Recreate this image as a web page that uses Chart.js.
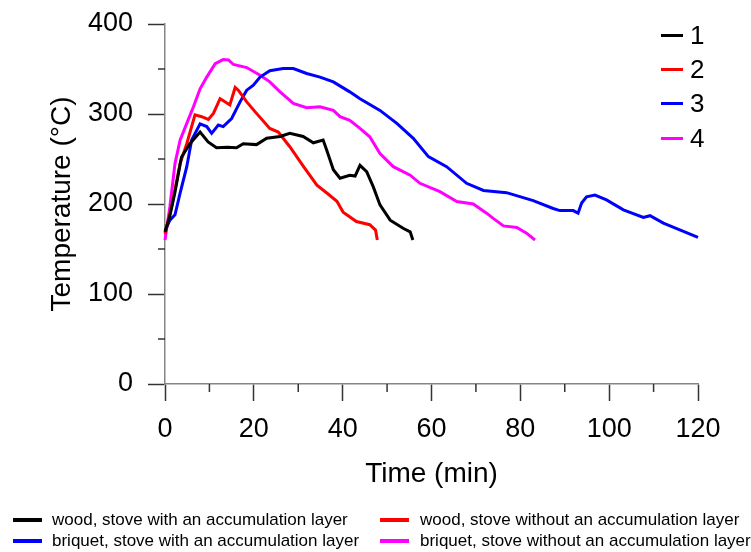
<!DOCTYPE html>
<html>
<head>
<meta charset="utf-8">
<script src="https://cdn.jsdelivr.net/npm/chart.js@4.4.0/dist/chart.umd.min.js"></script>
<style>
  html, body { margin: 0; padding: 0; background: #fff; }
  #wrap { position: relative; width: 751px; height: 552px; font-family: "Liberation Sans", Arial, sans-serif; }
  canvas { position: absolute; left: 0; top: 0; }
  .num { position: absolute; font-size: 26px; color: #000; line-height: 26px; }
  .nline { position: absolute; height: 3px; width: 22px; }
  .leg { position: absolute; font-size: 17px; color: #000; line-height: 20px; white-space: nowrap; }
  .lline { position: absolute; height: 4px; width: 29px; }
</style>
</head>
<body>
<div id="wrap">
  <canvas id="c" width="751" height="552"></canvas>
</div>
<script>
// ---- data ----
const seriesNames = ["1", "2", "3", "4"];
const legendLabels = [
  "wood, stove with an accumulation layer",
  "wood, stove without an accumulation layer",
  "briquet, stove with an accumulation layer",
  "briquet, stove without an accumulation layer"
];
const seriesColors = ["#000000", "#ff0000", "#0000ff", "#ff00ff"];

// 1: wood, stove with an accumulation layer
const time1 = [0, 1, 2.2, 3.7, 5.6, 7.9, 9.7, 11.6, 14, 16.1, 17.6, 20.6, 22.9, 25.9, 28.1, 31.1, 33.4, 35.6, 36.4, 37.9, 39.4, 41.6, 42.8, 43.9, 45.4, 46.9, 48.4, 50.7, 53.6, 55.2, 55.8];
const temp1 = [169, 185, 212, 252, 267, 280, 269, 262.5, 263, 262.5, 267, 266, 273, 275, 278.5, 275, 268, 271, 260, 238, 228.6, 232, 231, 243, 236, 219, 199, 182, 173, 169, 160];

// 2: wood, stove without an accumulation layer
const time2 = [0, 1.5, 3.4, 4.9, 6.75, 8.25, 9.75, 10.9, 12.4, 13.5, 14.6, 15.8, 16.5, 18.4, 20.6, 23.6, 25.5, 28.1, 31.2, 34.2, 36.5, 38.7, 40.1, 43.1, 46.1, 47.4, 47.8];
const temp2 = [167, 197, 245, 267, 299, 297, 294, 300.7, 317, 313.5, 310, 329.5, 326.5, 313.5, 300.7, 284, 280, 263.6, 241.5, 221, 212, 203, 191, 180.5, 177, 171, 160];

// 3: briquet, stove with an accumulation layer
const time3 = [0, 1.1, 2.25, 3.4, 4.9, 6.0, 7.9, 9.4, 10.5, 12, 13.1, 15, 16.9, 18.4, 19.9, 21.4, 23.6, 26.6, 28.9, 31.9, 34.9, 37.9, 41.6, 43.9, 48.4, 52.2, 55.9, 59.3, 63.4, 67.9, 71.7, 76.9, 82.9, 87.4, 88.9, 91.9, 93.0, 93.8, 94.9, 96.8, 99.4, 103.2, 107.7, 109.2, 112.2, 115.9, 120];
const temp3 = [170, 182, 188, 212, 241.5, 271, 289, 286, 278.5, 287.7, 286, 295, 313.5, 326.5, 332, 341, 348, 350.5, 350.5, 345, 341, 335.7, 324.6, 317, 304, 289.6, 273, 252.6, 241.5, 223, 215, 212.6, 203.8, 195, 192.7, 192.7, 189.8, 201, 208, 210, 204.5, 193.5, 185, 187, 178.7, 171.3, 163];

// 4: briquet, stove without an accumulation layer
const time4 = [0, 1.1, 2.25, 3.4, 4.9, 6.4, 7.9, 9.4, 11.3, 13.1, 14.3, 15.4, 18.4, 21.4, 23.6, 25.9, 28.9, 31.9, 34.9, 37.9, 39.4, 41.6, 43.9, 46.1, 48.4, 51.4, 55.2, 57.4, 61.9, 65.7, 69.4, 72.4, 73.9, 76.2, 79.2, 81.4, 83.3];
const temp4 = [160, 197, 245, 271, 289.6, 308, 328, 341, 356, 360.5, 360, 355, 351.6, 343, 335.7, 324.6, 311.8, 307, 308, 304, 297, 293, 284, 274.7, 256, 241.5, 232, 223, 213.7, 202.7, 200, 189.8, 184, 175.7, 174, 167.6, 160];

const xTitle = "Time (min)";
const yTitle = "Temperature (°C)";
const xMin = 0, xMax = 120, xStep = 10, xLabelEvery = 20;
const yMin = 0, yMax = 400, yStep = 50, yLabelEvery = 100;

// ---- build ----
const times = [time1, time2, time3, time4];
const temps = [temp1, temp2, temp3, temp4];
const datasets = times.map((tArr, i) => ({
  label: seriesNames[i],
  data: tArr.map((t, j) => ({ x: t, y: temps[i][j] })),
  borderColor: seriesColors[i],
  backgroundColor: seriesColors[i],
  borderWidth: 3,
  pointRadius: 0,
  tension: 0,
  fill: false,
  clip: false
}));

const AXIS = "#858585";
const TICK = "#333333";
const FONT = "'Liberation Sans', Arial, sans-serif";

const minorTicks = {
  id: "minorTicks",
  afterDraw(chart) {
    const ctx = chart.ctx;
    const xs = chart.scales.x, ys = chart.scales.y;
    ctx.save();
    ctx.strokeStyle = TICK;
    ctx.lineWidth = 1.5;
    for (let v = xMin; v <= xMax; v += xStep) {
      if (v % xLabelEvery === 0) continue;
      const px = xs.getPixelForValue(v);
      ctx.beginPath();
      ctx.moveTo(px, ys.bottom);
      ctx.lineTo(px, ys.bottom + 8);
      ctx.stroke();
    }
    for (let v = yMin; v <= yMax; v += yStep) {
      if (v % yLabelEvery === 0) continue;
      const py = ys.getPixelForValue(v);
      ctx.beginPath();
      ctx.moveTo(xs.left - 7, py);
      ctx.lineTo(xs.left, py);
      ctx.stroke();
    }
    ctx.restore();
  }
};

const chart = new Chart(document.getElementById("c"), {
  type: "line",
  data: { datasets },
  plugins: [minorTicks],
  options: {
    responsive: false,
    animation: false,
    events: [],
    layout: { padding: { left: 0, right: 53, top: 24, bottom: 58 } },
    plugins: { legend: { display: false }, tooltip: { enabled: false } },
    scales: {
      x: {
        type: "linear",
        min: xMin, max: xMax,
        afterFit: (s) => { s.height = 110; s.paddingLeft = 0; s.paddingRight = 0; },
        border: { color: AXIS, width: 1.5 },
        grid: {
          drawOnChartArea: false,
          drawTicks: true,
          tickLength: 17,
          tickWidth: 1.5,
          tickColor: (c) => (c.tick && c.tick.value % xLabelEvery === 0) ? TICK : "rgba(0,0,0,0)"
        },
        ticks: {
          stepSize: xStep,
          autoSkip: false,
          maxRotation: 0,
          padding: 12,
          color: "#000",
          font: { family: FONT, size: 27 },
          callback: (v) => (v % xLabelEvery === 0 ? String(v) : "")
        },
        title: {
          display: true, text: xTitle, color: "#000",
          font: { family: FONT, size: 28 },
          padding: { top: 0, bottom: 3 }
        }
      },
      y: {
        type: "linear",
        min: yMin, max: yMax,
        afterFit: (s) => { s.width = 165; s.paddingTop = 0; s.paddingBottom = 0; },
        border: { color: AXIS, width: 1.5 },
        grid: {
          drawOnChartArea: false,
          drawTicks: true,
          tickLength: 17,
          tickWidth: 1.5,
          tickColor: (c) => (c.tick && c.tick.value % yLabelEvery === 0) ? TICK : "rgba(0,0,0,0)"
        },
        ticks: {
          stepSize: yStep,
          autoSkip: false,
          padding: 15,
          color: "#000",
          font: { family: FONT, size: 27 },
          callback: (v) => (v % yLabelEvery === 0 ? String(v) : "")
        },
        title: {
          display: true, text: yTitle, color: "#000",
          font: { family: FONT, size: 28 },
          padding: { top: 45, bottom: 0 }
        }
      }
    }
  }
});

// ---- legends as HTML text ----
const wrap = document.getElementById("wrap");
const numRows = [35, 69, 103, 138];
seriesNames.forEach((n, i) => {
  const ln = document.createElement("div");
  ln.className = "nline";
  ln.style.left = "661px";
  ln.style.top = (numRows[i] - 1.5) + "px";
  ln.style.background = seriesColors[i];
  wrap.appendChild(ln);
  const tx = document.createElement("div");
  tx.className = "num";
  tx.style.left = "690px";
  tx.style.top = (numRows[i] - 13) + "px";
  tx.textContent = n;
  wrap.appendChild(tx);
});
const legPos = [
  { lx: 13, tx: 52, y: 520 },
  { lx: 380, tx: 420, y: 520 },
  { lx: 13, tx: 52, y: 541 },
  { lx: 380, tx: 420, y: 541 }
];
legendLabels.forEach((lab, i) => {
  const p = legPos[i];
  const ln = document.createElement("div");
  ln.className = "lline";
  ln.style.left = p.lx + "px";
  ln.style.top = (p.y - 2) + "px";
  ln.style.background = seriesColors[i];
  wrap.appendChild(ln);
  const tx = document.createElement("div");
  tx.className = "leg";
  tx.style.left = p.tx + "px";
  tx.style.top = (p.y - 10) + "px";
  tx.textContent = lab;
  wrap.appendChild(tx);
});
</script>
</body>
</html>
